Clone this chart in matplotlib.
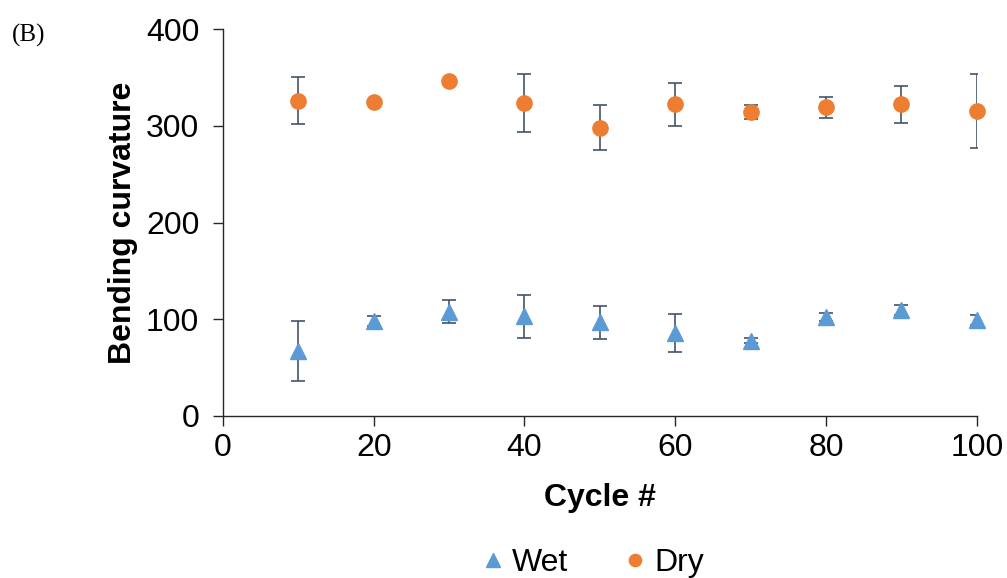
import matplotlib.pyplot as plt

plt.rcParams['font.family'] = ['Liberation Sans', 'DejaVu Sans']

cycles = [10, 20, 30, 40, 50, 60, 70, 80, 90, 100]
wet = [67.5, 98.5, 108, 103, 97, 86, 78, 102.5, 109.5, 99]
wet_err = [31, 5, 12, 22.5, 17, 19.5, 3, 4, 5, 5]
dry = [326, 325, 346, 323.5, 298, 322, 314, 319, 322, 315.5]
dry_err = [24.5, 0, 0, 30, 23, 22.5, 7.5, 11, 19, 38]

blue = '#5B9BD5'
orange = '#ED7D31'
ecol = '#44546A'

fig = plt.figure(figsize=(10.07, 5.78), dpi=100)
ax = fig.add_axes([0.2214, 0.2803, 0.7486, 0.6695])

# error bars (clipped at the plot edge), markers drawn on top unclipped
ax.errorbar(cycles, wet, yerr=wet_err, fmt='none', ecolor=ecol,
            elinewidth=1.2, capsize=5, capthick=1.2, zorder=2)
ax.errorbar(cycles, dry, yerr=dry_err, fmt='none', ecolor=ecol,
            elinewidth=1.2, capsize=5, capthick=1.2, zorder=2)
h_wet, = ax.plot(cycles, wet, '^', color=blue, ms=12, mec=blue, ls='none',
                 label='Wet', zorder=3, clip_on=False)
h_dry, = ax.plot(cycles, dry, 'o', color=orange, ms=11, mec=orange, ls='none',
                 label='Dry', zorder=3, clip_on=False)

ax.set_xlim(0, 100)
ax.set_ylim(0, 400)
ax.set_xticks(range(0, 101, 20))
ax.set_yticks(range(0, 401, 100))
ax.spines['top'].set_visible(False)
ax.spines['right'].set_visible(False)
for s in ['left', 'bottom']:
    ax.spines[s].set_color('#262626')
    ax.spines[s].set_linewidth(1)
ax.tick_params(axis='both', labelsize=23, length=7, width=1, color='#262626')
ax.tick_params(axis='y', pad=10)
ax.tick_params(axis='x', pad=5)

ax.set_xlabel('Cycle #', fontsize=23, fontweight='bold', labelpad=15)
ax.set_ylabel('Bending curvature', fontsize=23, fontweight='bold', labelpad=6)

fig.legend([h_wet, h_dry], ['Wet', 'Dry'], loc='lower center', bbox_to_anchor=(0.588, -0.05),
           ncol=2, frameon=False, fontsize=23, handletextpad=0.2, columnspacing=1.7,
           handlelength=0.8, markerscale=0.8)

fig.text(0.012, 0.928, '(B)', fontsize=18, family=['Liberation Serif', 'DejaVu Serif'])

fig.savefig('out.png', dpi=100)
